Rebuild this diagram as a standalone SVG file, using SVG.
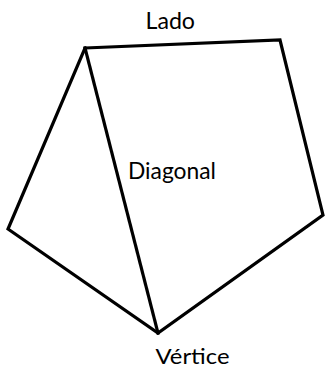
<svg xmlns="http://www.w3.org/2000/svg" width="327" height="369" viewBox="0 0 327 369">
<style>
.e{fill:none;stroke:#000;stroke-width:3.2;stroke-linejoin:miter;stroke-linecap:square}
.t{font-family:Lato,"Open Sans","Liberation Sans",sans-serif;font-size:23px;fill:#000}
</style>
<rect width="327" height="369" fill="#fff"/>
<g id="connectors">
<path class="e" d="M85,48 L280,40 L323,215 L158,333 L8,229 Z"/>
<path class="e" d="M85,48 L158,333"/>
</g>
<g id="lado"><text class="t" x="145.5" y="29.3" textLength="49.5" lengthAdjust="spacingAndGlyphs">Lado</text></g>
<g id="diagonal"><text class="t" x="128" y="179" textLength="88" lengthAdjust="spacingAndGlyphs">Diagonal</text></g>
<g id="vertice"><text class="t" x="155.5" y="364" style="font-size:22px" textLength="74" lengthAdjust="spacingAndGlyphs">Vértice</text></g>
</svg>
